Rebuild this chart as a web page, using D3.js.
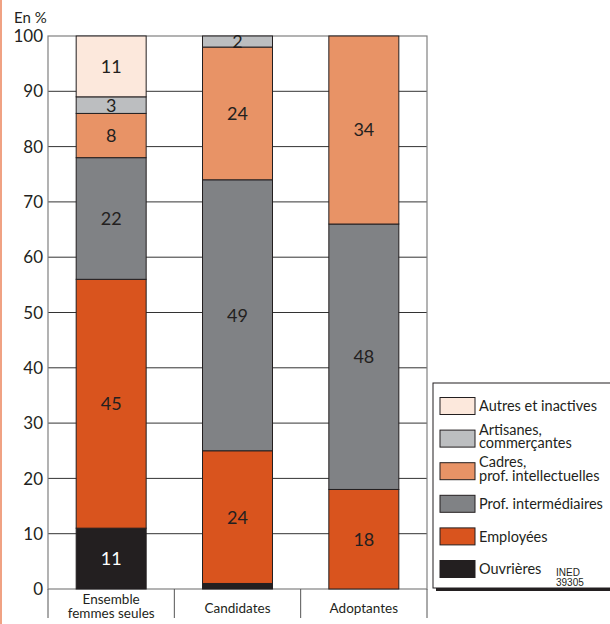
<!DOCTYPE html>
<html><head><meta charset="utf-8">
<script src="https://cdn.jsdelivr.net/npm/d3@7"></script>
<style>html,body{margin:0;padding:0;background:#fff;overflow:hidden}</style>
</head><body>
<svg id="c" width="610" height="624"></svg>
<script>
const categories = ["Ensemble femmes seules", "Candidates", "Adoptantes"];
const categoryLines = [["Ensemble", "femmes seules"], ["Candidates"], ["Adoptantes"]];
const seriesNames = ["Ouvrières", "Employées", "Prof. intermédiaires", "Cadres, prof. intellectuelles", "Artisanes, commerçantes", "Autres et inactives"];
const legendLines = [["Ouvrières"], ["Employées"], ["Prof. intermédiaires"], ["Cadres,", "prof. intellectuelles"], ["Artisanes,", "commerçantes"], ["Autres et inactives"]];
const ouvrieres = [11, 1, 0];
const employees = [45, 24, 18];
const profInter = [22, 49, 48];
const cadres = [8, 24, 34];
const artisanes = [3, 2, 0];
const autres = [11, 0, 0];
const yTicks = [0, 10, 20, 30, 40, 50, 60, 70, 80, 90, 100];
const colors = ["#231f20", "#d9541e", "#808285", "#e89366", "#bcbec0", "#fce8dc"];
const labelColors = ["#ffffff", "#231f20", "#231f20", "#231f20", "#231f20", "#231f20"];
const note = ["INED", "39305"];

const values = [ouvrieres, employees, profInter, cadres, artisanes, autres];
const FONT = "Lato, 'Open Sans', sans-serif";
const W = 400;
const ink = "#231f20";

const svg = d3.select("#c");
const L = 48, R = 427, T = 36, B = 589;
const y = d3.scaleLinear().domain([0, 100]).range([B, T]);
const x = d3.scaleBand().domain(categories).range([L, R]).paddingInner(0.446).paddingOuter(0.223);

// orange left edge
svg.append("rect").attr("x", 0).attr("y", 0).attr("width", 2).attr("height", 624).attr("fill", "#f0a283");

// gridlines
svg.append("g").selectAll("line").data(yTicks.filter(d => d > 0 && d < 100)).join("line")
  .attr("x1", L).attr("x2", R).attr("y1", d => y(d)).attr("y2", d => y(d))
  .attr("stroke", "#333").attr("stroke-width", 1);

// frame
svg.append("rect").attr("x", L).attr("y", T).attr("width", R - L).attr("height", B - T)
  .attr("fill", "none").attr("stroke", "#808080").attr("stroke-width", 1.2);

// y tick labels
svg.append("g").selectAll("text").data(yTicks).join("text")
  .attr("x", 43).attr("y", d => y(d)).attr("dy", "0.36em")
  .attr("text-anchor", "end").attr("font-family", FONT).attr("font-weight", W).attr("font-size", 17).attr("fill", ink)
  .text(d => d);
svg.append("text").attr("x", 14).attr("y", 23).attr("font-family", FONT).attr("font-weight", W).attr("font-size", 15).attr("fill", ink).text("En %");

// stacked data
const rows = categories.map((c, i) => {
  const r = {cat: c};
  seriesNames.forEach((s, k) => r[s] = values[k][i]);
  return r;
});
const stack = d3.stack().keys(seriesNames)(rows);

const g = svg.append("g");
stack.forEach((layer, k) => {
  g.append("g").selectAll("rect").data(layer.filter(d => d[1] - d[0] > 0)).join("rect")
    .attr("x", d => x(d.data.cat)).attr("width", x.bandwidth())
    .attr("y", d => y(d[1])).attr("height", d => y(d[0]) - y(d[1]))
    .attr("fill", colors[k]).attr("stroke", ink).attr("stroke-width", 1);
});
stack.forEach((layer, k) => {
  g.append("g").selectAll("text").data(layer.filter(d => d[1] - d[0] >= 2)).join("text")
    .attr("x", d => x(d.data.cat) + x.bandwidth() / 2)
    .attr("y", d => (y(d[0]) + y(d[1])) / 2).attr("dy", "0.36em")
    .attr("text-anchor", "middle").attr("font-family", FONT).attr("font-weight", W).attr("font-size", 18)
    .attr("fill", labelColors[k]).text(d => d[1] - d[0]);
});

// bottom separators and category labels
const sep = categories.map((c, i) => L + x.step() * (i + 1));
svg.append("g").selectAll("line").data([L].concat(sep)).join("line")
  .attr("x1", d => d).attr("x2", d => d).attr("y1", B).attr("y2", 618)
  .attr("stroke", "#555").attr("stroke-width", 1);
categories.forEach((c, i) => {
  const lines = categoryLines[i];
  const cx = x(c) + x.bandwidth() / 2;
  const t = svg.append("text").attr("text-anchor", "middle").attr("font-family", FONT).attr("font-weight", W)
    .attr("font-size", 13.5).attr("fill", ink);
  if (lines.length === 1) {
    t.append("tspan").attr("x", cx).attr("y", 613).text(lines[0]);
  } else {
    t.append("tspan").attr("x", cx).attr("y", 604).text(lines[0]);
    t.append("tspan").attr("x", cx).attr("y", 618).text(lines[1]);
  }
});

// legend
const lg = svg.append("g");
lg.append("rect").attr("x", 436).attr("y", 386).attr("width", 200).attr("height", 205).attr("fill", ink);
lg.append("rect").attr("x", 433).attr("y", 383).attr("width", 200).attr("height", 205)
  .attr("fill", "#fff").attr("stroke", ink).attr("stroke-width", 1);
const order = [5, 4, 3, 2, 1, 0];
const rowY = d3.scalePoint().domain(order).range([406, 569]);
order.forEach(k => {
  const cy = rowY(k);
  lg.append("rect").attr("x", 440).attr("y", cy - 8.5).attr("width", 35).attr("height", 17)
    .attr("fill", colors[k]).attr("stroke", ink).attr("stroke-width", 1);
  const t = lg.append("text").attr("font-family", FONT).attr("font-weight", W).attr("font-size", 14.5).attr("fill", ink);
  const lines = legendLines[k];
  if (lines.length === 1) {
    t.append("tspan").attr("x", 479).attr("y", cy).attr("dy", "0.36em").text(lines[0]);
  } else {
    t.append("tspan").attr("x", 479).attr("y", cy - 4).text(lines[0]);
    t.append("tspan").attr("x", 479).attr("y", cy + 9.5).text(lines[1]);
  }
});
lg.append("text").attr("x", 556).attr("y", 576).attr("font-family", "'Liberation Sans Narrow', 'Liberation Sans', sans-serif")
  .attr("font-size", 10).attr("fill", ink).text(note[0]);
lg.append("text").attr("x", 556).attr("y", 586).attr("font-family", "'Liberation Sans Narrow', 'Liberation Sans', sans-serif")
  .attr("font-size", 10).attr("fill", ink).text(note[1]);
</script>
</body></html>
